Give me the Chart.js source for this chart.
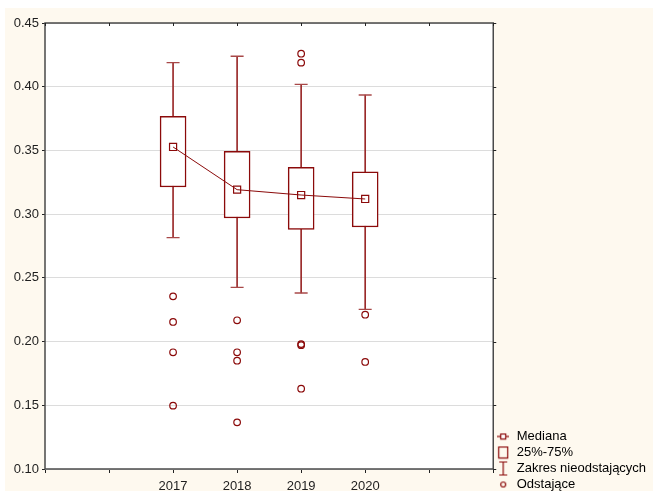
<!DOCTYPE html>
<html>
<head>
<meta charset="utf-8">
<script src="https://cdn.jsdelivr.net/npm/chart.js@4"></script>
<style>
  body { margin: 0; background: #ffffff; overflow: hidden; }
  #wrap { position: absolute; left: 5px; top: 8px; width: 648px; height: 483px; background: #fef9ef; }
  #box { position: absolute; left: 0; top: 0; width: 648px; height: 486px; }
</style>
</head>
<body>
<div id="wrap"><div id="box"><canvas id="myChart"></canvas></div></div>
<script>
"use strict";

// values
var years = [2017, 2018, 2019, 2020];
var medians = [0.3527, 0.3192, 0.3150, 0.3119];
var q1 = [0.3213, 0.2970, 0.2881, 0.2899];
var q3 = [0.3768, 0.3493, 0.3367, 0.3333];
var whiskerLow = [0.2815, 0.2426, 0.2381, 0.2253];
var whiskerHigh = [0.4189, 0.4239, 0.4019, 0.3935];
var outliers = [
    [0.2355, 0.2154, 0.1916, 0.1497],
    [0.2167, 0.1916, 0.1850, 0.1366],
    [0.4259, 0.4189, 0.1980, 0.1972, 0.1630],
    [0.2211, 0.1840]
];
var yTicks = [0.10, 0.15, 0.20, 0.25, 0.30, 0.35, 0.40, 0.45];
var legendLabels = ["Mediana", "25%-75%", "Zakres nieodstających", "Odstające"];

var red = "#8b0a0a";
Chart.defaults.font.family = "'Liberation Sans', Arial, sans-serif";
Chart.defaults.font.size = 13;
Chart.defaults.color = "#1e1e1e";

function icon(w, h, draw) {
    var c = document.createElement("canvas");
    c.width = w;
    c.height = h;
    var g = c.getContext("2d");
    g.strokeStyle = red;
    g.fillStyle = "#ffffff";
    g.lineWidth = 1.2;
    draw(g);
    return c;
}

var icons = [
    icon(12, 8, function(g) {
        g.beginPath(); g.moveTo(0, 4); g.lineTo(12, 4); g.stroke();
        g.fillRect(3.5, 1.5, 5, 5); g.strokeRect(3.5, 1.5, 5, 5);
    }),
    icon(12, 14, function(g) {
        g.strokeRect(1.5, 1.5, 9, 11);
    }),
    icon(12, 15, function(g) {
        g.beginPath();
        g.moveTo(2, 1); g.lineTo(10, 1);
        g.moveTo(6, 1); g.lineTo(6, 14);
        g.moveTo(2, 14); g.lineTo(10, 14);
        g.stroke();
    }),
    icon(8, 8, function(g) {
        g.beginPath(); g.arc(4, 4, 2.5, 0, Math.PI * 2); g.stroke();
    })
];

var boxData = years.map(function(y, i) { return { x: y, y: [q1[i], q3[i]] }; });
var whiskerData = years.map(function(y, i) { return { x: y, y: [whiskerLow[i], whiskerHigh[i]] }; });
var medianData = years.map(function(y, i) { return { x: y, y: medians[i] }; });
var capData = [];
years.forEach(function(y, i) {
    capData.push({ x: y, y: whiskerLow[i] });
    capData.push({ x: y, y: whiskerHigh[i] });
});
var outlierData = [];
years.forEach(function(y, i) {
    outliers[i].forEach(function(v) { outlierData.push({ x: y, y: v }); });
});

var framePlugin = {
    id: "frame",
    beforeDraw: function(chart) {
        var a = chart.chartArea, c = chart.ctx;
        c.save();
        c.fillStyle = "#ffffff";
        c.fillRect(a.left, a.top, a.right - a.left, a.bottom - a.top);
        c.restore();
    },
    afterDraw: function(chart) {
        var a = chart.chartArea, c = chart.ctx;
        var xs = chart.scales.x, ys = chart.scales.y;
        c.save();
        c.strokeStyle = "#4a4a4a";
        c.lineWidth = 1.5;
        c.strokeRect(a.left, a.top, a.right - a.left, a.bottom - a.top);
        c.lineWidth = 1;
        c.strokeStyle = "#222";
        c.beginPath();
        xs.ticks.forEach(function(t) {
            var px = Math.round(xs.getPixelForValue(t.value)) + 0.5;
            c.moveTo(px, a.top); c.lineTo(px, a.top + 3);
        });
        ys.ticks.forEach(function(t) {
            var py = Math.round(ys.getPixelForValue(t.value)) + 0.5;
            c.moveTo(a.right, py); c.lineTo(a.right + 3, py);
        });
        c.stroke();
        c.restore();
    }
};

var ctx = document.getElementById("myChart");
var myChart = new Chart(ctx, {
    type: "bar",
    data: {
        datasets: [
            {
                type: "line",
                label: "Mediana",
                data: medianData,
                borderColor: red,
                borderWidth: 1,
                pointStyle: "rect",
                pointRadius: 5,
                pointBorderWidth: 1.2,
                pointBorderColor: red,
                pointBackgroundColor: "rgba(255,255,255,0)",
                tension: 0,
                fill: false,
                order: 0
            },
            {
                type: "scatter",
                label: "caps",
                data: capData,
                pointStyle: "line",
                pointRadius: 6.5,
                borderColor: "#a84848",
                borderWidth: 1.3,
                order: 1
            },
            {
                type: "scatter",
                label: "Odstające",
                data: outlierData,
                pointStyle: "circle",
                pointRadius: 3.3,
                borderColor: red,
                borderWidth: 1.2,
                backgroundColor: "rgba(255,255,255,0)",
                order: 1
            },
            {
                label: "25%-75%",
                data: boxData,
                backgroundColor: "#ffffff",
                borderColor: red,
                borderWidth: 1.5,
                borderSkipped: false,
                barThickness: 26,
                grouped: false,
                order: 2
            },
            {
                label: "Zakres",
                data: whiskerData,
                backgroundColor: "#9a2a2a",
                borderWidth: 0,
                barThickness: 1,
                grouped: false,
                order: 3
            }
        ]
    },
    options: {
        responsive: true,
        maintainAspectRatio: false,
        animation: false,
        layout: { padding: { top: 15, right: -3, bottom: 0, left: 0 } },
        plugins: {
            tooltip: { enabled: false },
            legend: {
                position: "right",
                align: "end",
                onClick: null,
                labels: {
                    usePointStyle: true,
                    pointStyleWidth: 14,
                    padding: 3,
                    color: "#1e1e1e",
                    font: { size: 13 },
                    generateLabels: function() {
                        return legendLabels.map(function(t, i) {
                            return {
                                text: t,
                                pointStyle: icons[i],
                                fillStyle: "#fff",
                                strokeStyle: red,
                                lineWidth: 0,
                                hidden: false,
                                datasetIndex: i
                            };
                        });
                    }
                }
            }
        },
        scales: {
            x: {
                type: "linear",
                min: 2015,
                max: 2022,
                offset: false,
                grid: { display: true, drawOnChartArea: false, offset: false, tickLength: 4, tickColor: "#222" },
                border: { display: false },
                ticks: {
                    stepSize: 1,
                    padding: 6,
                    color: "#1e1e1e",
                    callback: function(v) { return years.indexOf(v) >= 0 ? String(v) : ""; }
                },
                afterFit: function(s) { s.height = 25; }
            },
            y: {
                type: "linear",
                min: yTicks[0],
                max: yTicks[yTicks.length - 1],
                grid: { color: "#dcdcdc", lineWidth: 1, tickLength: 3, tickColor: "#222" },
                border: { display: false },
                ticks: {
                    stepSize: 0.05,
                    padding: 3,
                    color: "#1e1e1e",
                    callback: function(v) { return Number(v).toFixed(2); }
                },
                afterFit: function(s) { s.width = 40; }
            }
        }
    },
    plugins: [framePlugin]
});
</script>
</body>
</html>
